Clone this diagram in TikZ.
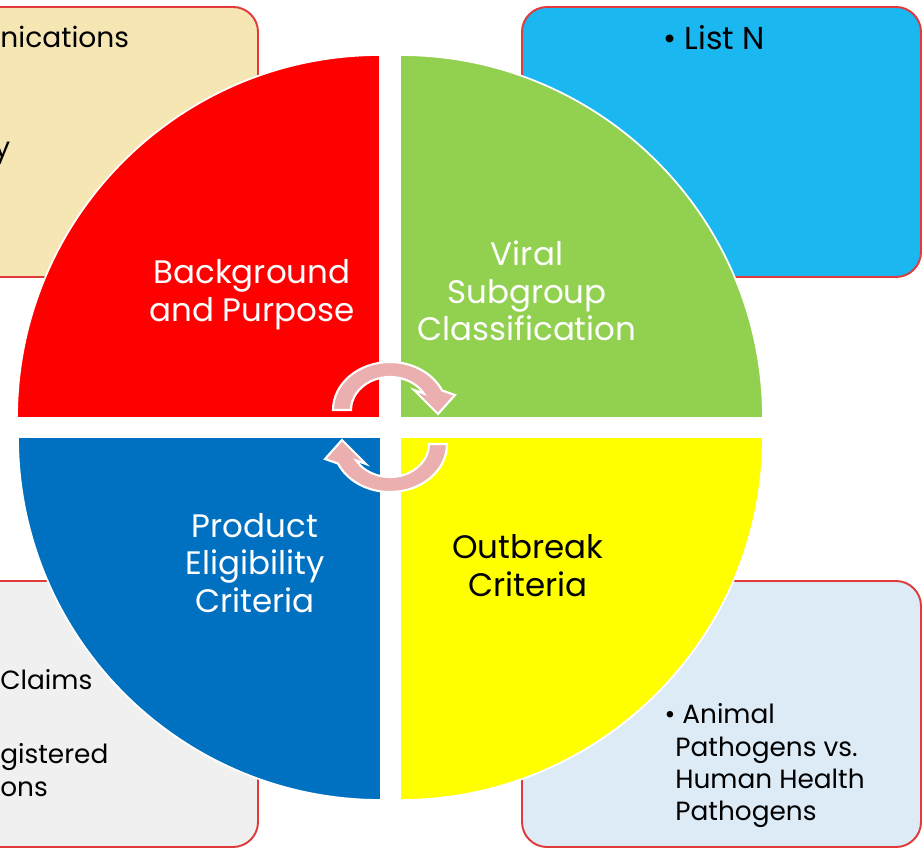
\documentclass[tikz,border=0pt]{standalone}
\usepackage{fontspec}
\setmainfont{Poppins}
\usetikzlibrary{positioning}
\definecolor{edgered}{HTML}{E03A3A}
\definecolor{sand}{HTML}{F5E6B4}
\definecolor{sky}{HTML}{1BB7F0}
\definecolor{mist}{HTML}{F0F0F0}
\definecolor{paleblue}{HTML}{DDEBF7}
\definecolor{qred}{HTML}{FF0000}
\definecolor{qgreen}{HTML}{92D050}
\definecolor{qblue}{HTML}{0070C0}
\definecolor{qyellow}{HTML}{FFFF00}
\definecolor{turnpink}{HTML}{EBAFAF}

\tikzset{
    turn arrow/.pic={
        \filldraw[fill=turnpink, draw=white, line width=1.2pt, line join=miter]
            (180:57 and 48) arc[start angle=180, end angle=24, x radius=57, y radius=48]
            -- (65,15) -- (48,-4) -- (24,20) -- (30:39 and 33)
            arc[start angle=30, end angle=180, x radius=39, y radius=33] -- cycle;
    }
}

\begin{document}
\begin{tikzpicture}[
    x=0.02cm, y=0.02cm,
    panel/.style={draw=edgered, line width=1.1pt, rounded corners=0.5cm},
    quarter/.style={draw=white, line width=1pt},
    qlabel/.style={align=center, inner sep=0pt, text=white, font=\fontsize{18.5}{21.5}\selectfont},
    boxtext/.style={align=left, inner sep=0pt, font=\fontsize{18}{21}\selectfont},
    smalltext/.style={align=left, inner sep=0pt, font=\fontsize{15}{18.4}\selectfont}
]
\useasboundingbox (0,0) rectangle (922,849);
\clip (0,0) rectangle (922,849);

% side panels
\path[panel, fill=sand] (-141,572) rectangle (258,842);
\path[panel, fill=sky] (522,572) rectangle (921,842);
\path[panel, fill=mist] (-141,2) rectangle (258,268);
\path[panel, fill=paleblue] (522,2) rectangle (921,268);

% four quarters of the wheel
\path[quarter, fill=qred] (380,431) -- ++(-363,0) arc[start angle=180, end angle=90, radius=363] -- cycle;
\path[quarter, fill=qgreen] (400,431) -- ++(0,363) arc[start angle=90, end angle=0, radius=363] -- cycle;
\path[quarter, fill=qblue] (381,412) -- ++(-363,0) arc[start angle=180, end angle=270, radius=363] -- cycle;
\path[quarter, fill=qyellow] (400,412) -- ++(0,-363) arc[start angle=270, end angle=360, radius=363] -- cycle;

\pic at (390,439) {turn arrow};
\pic[rotate=180] at (390,405) {turn arrow};

\node[qlabel] (purpose) at (252,554) {Background\\and Purpose};
\node[qlabel] (subgroup) at (527,558) {Viral\\Subgroup\\Classification};
\node[qlabel] (product) at (255,286) {Product\\Eligibility\\Criteria};
\node[qlabel, text=black] (outbreak) at (528,283) {Outbreak\\Criteria};

\node[boxtext, anchor=west, font=\fontsize{16}{19}\selectfont] (comm) at (0,812) {nications};
\node[boxtext, anchor=base west, font=\fontsize{16}{19}\selectfont] (tail) at (-6,691) {y};
\node[boxtext] (listn) at (714,811) {\textbullet\ List N};

\node[smalltext, anchor=west] (claims) at (0,169) {Claims};
\node[smalltext, anchor=west] (regist) at (0,79) {gistered\\ons};
\node[smalltext, anchor=west] (animal) at (675,83)
    {\llap{\textbullet}\hspace{4pt}Animal\\Pathogens vs.\\Human Health\\Pathogens};
\end{tikzpicture}
\end{document}
